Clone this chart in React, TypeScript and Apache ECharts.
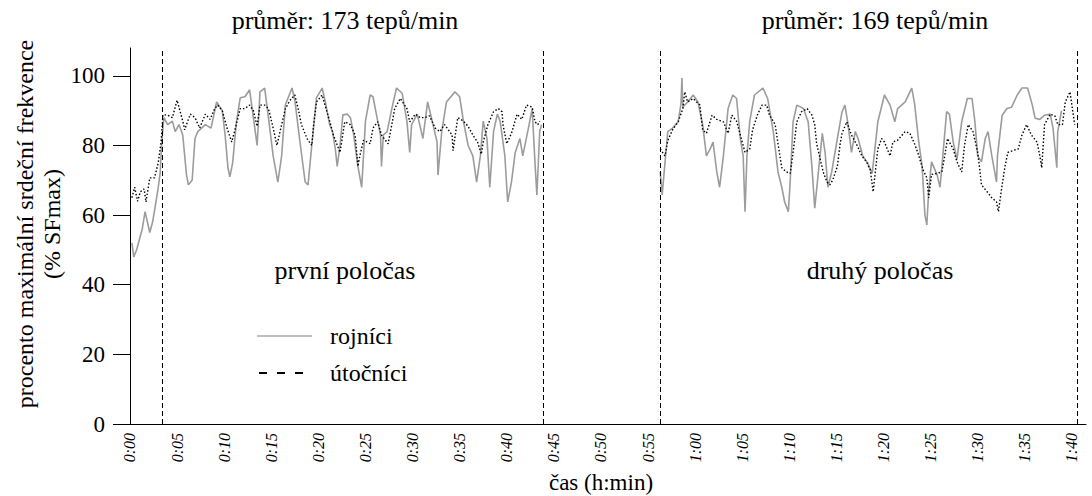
import React, { useEffect, useRef } from "react";
import * as echarts from "echarts";

// ---- data (minutes from kick-off, % SFmax) ----
const rojniciT = [
  0.2, 0.4, 0.7, 1.0, 1.3, 1.6, 2.1, 2.4, 2.65, 3.0, 3.2, 3.4, 3.6, 4.0, 4.5, 4.8, 5.2, 5.6, 6.0, 6.2, 6.6, 6.9, 7.2, 8.0, 8.6,
  9.2, 9.8, 10.1, 10.4, 10.6, 10.9, 11.3, 11.7, 12.2, 12.7, 13.1, 13.5, 13.8, 14.3, 14.7, 15.2, 15.7, 16.1, 16.5, 17.2, 17.5,
  18.0, 18.6, 18.9, 19.3, 19.8, 20.4, 20.7, 21.2, 21.5, 21.8, 22.0, 22.3, 22.6, 23.1, 23.4, 23.7, 24.2, 24.6, 25.0, 25.5, 25.8,
  26.3, 26.6, 26.7, 26.9, 27.3, 27.8, 28.3, 28.9, 29.4, 29.7, 29.9, 30.5, 31.1, 31.6, 32.0, 32.6, 32.7, 33.1, 33.6, 34.5, 35.0,
  35.4, 35.9, 36.4, 36.8, 37.2, 37.5, 37.9, 38.2, 38.6, 39.0, 39.3, 39.8, 40.1, 40.5, 40.9, 41.4, 41.7, 42.3, 42.7, 43.0, 43.2,
  43.5, 43.7,
  50,
  56.3, 56.5, 56.8, 57.1, 57.6, 58.2, 58.5, 58.6, 58.7, 59.2, 59.8, 60.3, 60.8, 61.2, 61.6, 61.9, 62.3, 62.6, 63.0, 63.5, 64.0,
  64.4, 64.8, 65.1, 65.3, 65.5, 65.8, 66.3, 67.2, 67.7, 68.3, 68.8, 69.2, 69.5, 69.9, 70.1, 70.4, 70.8, 71.5, 72.0, 72.4, 72.7,
  73.0, 73.5, 73.8, 74.1, 74.5, 75.1, 75.6, 75.9, 76.2, 76.6, 77.0, 77.3, 77.8, 78.3, 78.8, 79.4, 80.1, 80.7, 81.2, 81.5, 82.3,
  83.0, 83.3, 83.7, 84.1, 84.4, 84.6, 84.8, 85.1, 85.7, 86.0, 86.3, 86.7, 87.0, 87.4, 87.8, 88.3, 88.9, 89.4, 89.7, 90.0, 90.4,
  90.8, 91.1, 91.5, 92.0, 92.1, 92.6, 93.1, 93.6, 94.2, 94.7, 95.3, 95.8, 96.1, 96.6, 97.1, 97.7, 98.0, 98.4, 98.5, 98.9,
];
const rojniciV = [
  52, 48, 50, 53, 56, 61, 55, 58, 62, 68, 72, 82, 88, 86, 87, 84, 86, 83, 71.5, 68.7, 70, 82, 84, 86, 85,
  92.5, 90, 83, 73.6, 71, 75, 86.8, 93.7, 94, 96, 88, 80, 95.4, 96.5, 88, 77, 69.5, 77, 91.7, 96.5, 93,
  82, 69.5, 68.7, 80, 93.7, 96.5, 93, 86, 84, 79, 74, 80, 88.8, 89, 88, 84, 74, 68, 87, 94.5, 94,
  87, 83, 74, 83, 84, 90.6, 96.5, 95, 87, 78, 86, 89, 82, 92.5, 88, 81, 71.5, 84, 92.5, 95.4, 94,
  87, 80, 77, 69.5, 77, 87, 82, 68, 84, 89, 87, 77, 63.8, 69.5, 78, 82, 77, 85, 90.6, 75, 65.8,
  84, 86,
  null,
  72.4, 65.8, 75, 84, 85, 86.8, 92, 99.4, 91, 92.5, 94.5, 92.5, 86, 77, 79, 81, 72.4, 68, 77, 90.6, 94.5,
  93.5, 82, 77, 61, 77, 87, 94.5, 96.5, 93.5, 84, 72.4, 68, 63.8, 61, 70, 86.8, 91.6, 90.6, 86.8, 74, 62,
  70, 83.5, 78, 68, 72.4, 82, 89.7, 91.6, 86.8, 78, 84, 82, 77, 75, 72, 86.8, 94.5, 91.6, 86.8, 90.6, 92.5,
  96.5, 92, 82, 74, 60, 57.2, 67, 75.3, 71.5, 68, 77, 89.7, 89, 81, 76, 86.8, 93.5, 93.5, 87, 77, 75.3,
  82, 84, 77, 69.5, 77, 88.7, 90.6, 91, 94.5, 96.5, 96.5, 91.6, 87.8, 87.5, 88.7, 89, 85, 73.6, 84, 90,
];
const utocniciT = [
  0.2, 0.5, 0.8, 1.1, 1.5, 1.7, 2.1, 2.6, 3.0, 3.3, 3.5, 3.9, 4.5, 5.0, 5.3, 5.7, 5.8, 6.4, 6.9, 7.4, 8.0, 8.5, 9.0, 9.3, 9.8,
  10.3, 10.8, 11.1, 11.7, 12.2, 12.7, 13.1, 13.5, 13.8, 14.3, 14.7, 15.2, 15.6, 16.1, 16.5, 17.0, 17.5, 17.9, 18.2, 18.8, 19.3,
  19.5, 19.8, 20.4, 20.7, 21.2, 21.6, 22.3, 22.8, 23.4, 23.9, 24.2, 24.4, 24.8, 25.5, 25.8, 26.3, 26.7, 27.4, 27.8, 28.1, 28.7,
  29.4, 29.7, 30.3, 30.8, 31.3, 31.8, 32.4, 32.9, 33.4, 34.2, 34.3, 34.8, 35.4, 35.9, 36.4, 36.9, 37.3, 37.5, 38.0, 38.6, 39.1,
  39.5, 39.6, 40.0, 40.5, 41.1, 41.6, 42.1, 42.7, 43.0, 43.3, 43.5,
  50,
  56.3, 56.8, 57.1, 57.6, 58.2, 58.7, 58.9, 59.2, 59.8, 60.5, 60.8, 61.2, 61.8, 62.3, 63.0, 63.5, 63.9, 64.4, 64.8, 65.3, 65.8,
  66.1, 66.6, 67.1, 67.6, 67.9, 68.5, 68.8, 69.2, 69.7, 70.1, 70.4, 70.8, 71.3, 71.9, 72.4, 72.7, 72.9, 73.2, 73.6, 74.0, 74.3,
  74.6, 75.1, 75.4, 75.6, 76.1, 76.6, 77.2, 77.7, 78.2, 78.6, 78.9, 79.4, 79.8, 80.1, 80.7, 81.0, 81.5, 82.3, 82.8, 83.3, 83.7,
  84.2, 84.6, 84.8, 85.1, 85.7, 86.2, 86.5, 86.8, 87.4, 87.8, 88.3, 88.6, 89.0, 89.5, 90.0, 90.2, 90.4, 91.0, 91.5, 92.0, 92.2,
  92.6, 92.9, 93.2, 93.7, 94.3, 94.7, 95.2, 95.7, 96.3, 96.6, 96.8, 97.1, 97.7, 98.2, 98.5, 99.0, 99.3, 99.8, 100.1, 100.3,
];
const utocniciV = [
  65, 68, 64, 66.7, 67.5, 63.8, 70.7, 70.7, 75, 81, 88.8, 88.8, 88, 93, 90, 86, 84.5, 89, 88, 85, 89, 87.5, 90.6, 91.6, 90,
  85, 81, 84, 90.6, 90.6, 91.6, 90, 85.5, 91.6, 91.6, 90.6, 85, 80, 86, 90.6, 93, 94.5, 90, 86, 82, 80,
  86, 92.5, 94.5, 91.6, 87, 83, 78, 86.8, 86, 83, 74, 77, 81.5, 80.5, 85, 86.8, 83, 80.5, 86, 90.6, 93.5,
  90.6, 86.8, 89, 88, 88, 88.5, 85, 84, 86, 83, 78.5, 88, 87, 85.5, 83, 81, 77.5, 81, 86, 89.7, 90.6,
  89.7, 86, 80.5, 83.5, 89, 87.5, 91.6, 91, 86.8, 86, 87,
  null,
  79, 77, 81.4, 84.5, 86.8, 90.6, 95.4, 92.5, 93.5, 91.6, 84.5, 83.5, 88.7, 87.5, 86.8, 83.5, 88.7, 87, 83, 78, 79,
  84.5, 88.7, 91.6, 91.6, 88.7, 86, 80.5, 73.6, 72.4, 72, 78, 86.8, 89.7, 90.6, 88.7, 86, 80.5, 77, 72.4, 69.5, 68.7,
  70, 74, 80.5, 83.5, 86.8, 83, 80, 77, 75.3, 73, 66.7, 79, 82, 81, 77, 81, 81.5, 84, 83.5, 80.5, 77.5,
  73, 70.7, 65, 71.7, 72, 72.4, 77, 82, 79, 75.3, 72.4, 80, 86, 84, 78, 73.6, 68.7, 66.7, 65, 63.8, 61,
  68.7, 74, 78, 78.5, 79, 83, 86, 83, 81, 77, 73.6, 86, 89, 88.5, 86, 86, 92.5, 95.4, 89.7, 86,
];
const seriesNames = ["rojníci", "útočníci"];
const halfMarks = [3.4, 43.9, 56.3, 100.6];
const xLabelMinutes = [0, 5, 10, 15, 20, 25, 30, 35, 40, 45, 50, 55, 60, 65, 70, 75, 80, 85, 90, 95, 100];
const yTicks = [0, 20, 40, 60, 80, 100];
const titles = ["průměr: 173 tepů/min", "průměr: 169 tepů/min"];
const halfLabels = ["první poločas", "druhý poločas"];
const yName = ["procento maximální srdeční frekvence", "(% SFmax)"];
const xName = "čas (h:min)";

const SERIF = "Liberation Serif";

function fmtTime(v: number) {
  const h = Math.floor(v / 60);
  const m = Math.round(v - h * 60);
  return h + ":" + (m < 10 ? "0" + m : String(m));
}

function txt(text: string, x: number, y: number, opts: any = {}) {
  return {
    type: "text",
    x,
    y,
    rotation: opts.rotation || 0,
    silent: true,
    style: {
      text,
      fill: "#000",
      fontSize: opts.fontSize || 24,
      fontFamily: SERIF,
      align: opts.align || "center",
      verticalAlign: "middle",
    },
  };
}

export default function App() {
  const ref = useRef<HTMLDivElement>(null);
  useEffect(() => {
    document.body.style.margin = "0";
    if (!ref.current) return;
    const chart = echarts.init(ref.current, null, { renderer: "svg" });
    const rojData = rojniciT.map((t, i) => [t, rojniciV[i]]);
    const utoData = utocniciT.map((t, i) => [t, utocniciV[i]]);
    chart.setOption({
      animation: false,
      backgroundColor: "#fff",
      grid: { left: 125, right: 6, top: 48, bottom: 72, containLabel: false, outerBoundsMode: "none" },
      xAxis: {
        type: "value",
        min: -0.53,
        max: 101.5,
        axisLine: { show: true, lineStyle: { color: "#000", width: 1 } },
        axisTick: { show: false },
        splitLine: { show: false },
        axisLabel: {
          customValues: xLabelMinutes,
          formatter: (v: number) => fmtTime(v),
          rotate: 90,
          margin: 9,
          fontSize: 16,
          fontStyle: "italic",
          fontFamily: SERIF,
          color: "#000",
        },
      },
      yAxis: {
        type: "value",
        min: 0,
        max: 108,
        axisLine: { show: true, lineStyle: { color: "#000", width: 1 } },
        axisTick: { show: true, customValues: yTicks, length: 17, lineStyle: { color: "#000", width: 1 } },
        axisLabel: { customValues: yTicks, margin: 20, fontSize: 23, fontFamily: SERIF, color: "#000" },
        splitLine: { show: false },
      },
      series: [
        {
          name: seriesNames[0],
          type: "line",
          data: rojData,
          showSymbol: false,
          connectNulls: false,
          lineStyle: { color: "#9c9c9c", width: 1.6 },
          z: 2,
          markLine: {
            silent: true,
            symbol: ["none", "none"],
            label: { show: false },
            lineStyle: { color: "#000", width: 1, type: [5, 3] },
            data: halfMarks.map((v) => ({ xAxis: v })),
          },
        },
        {
          name: seriesNames[1],
          type: "line",
          data: utoData,
          showSymbol: false,
          connectNulls: false,
          lineStyle: { color: "#000", width: 1.4, type: [1.5, 2] },
          z: 3,
        },
      ],
      graphic: [
        txt(titles[0], 345, 20, { fontSize: 26 }),
        txt(titles[1], 875, 20, { fontSize: 26 }),
        txt(halfLabels[0], 345, 270, { fontSize: 26 }),
        txt(halfLabels[1], 880, 270, { fontSize: 26 }),
        txt(yName[0], 25, 224, { rotation: Math.PI / 2 }),
        txt(yName[1], 52, 224, { rotation: Math.PI / 2 }),
        txt(xName, 601, 482, { fontSize: 23 }),
        {
          type: "line",
          silent: true,
          shape: { x1: 257, y1: 336, x2: 312, y2: 336 },
          style: { stroke: "#a8a8a8", lineWidth: 1.6 },
        },
        {
          type: "line",
          silent: true,
          shape: { x1: 259, y1: 373, x2: 305, y2: 373 },
          style: { stroke: "#000", lineWidth: 2, lineDash: [8, 10] },
        },
        txt(seriesNames[0], 330, 336, { align: "left" }),
        txt(seriesNames[1], 330, 373, { align: "left" }),
      ],
    });
    return () => chart.dispose();
  }, []);
  return <div ref={ref} style={{ width: 1092, height: 496 }} />;
}
